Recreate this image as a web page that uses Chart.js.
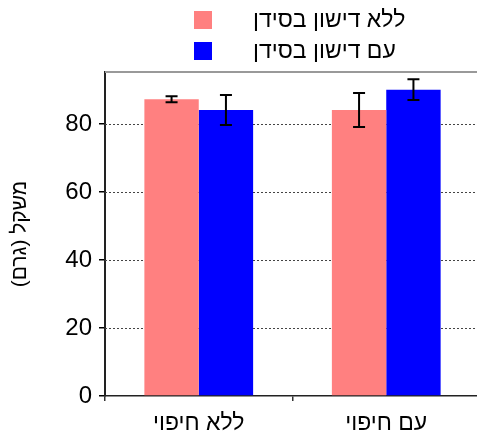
<!DOCTYPE html>
<html>
<head>
<meta charset="utf-8">
<script src="https://cdn.jsdelivr.net/npm/chart.js@4"></script>
<style>
html,body{margin:0;padding:0;overflow:hidden;background:#fff;}
#wrap{width:481px;height:432px;position:relative;}
</style>
</head>
<body>
<div id="wrap"><canvas id="c"></canvas></div>
<script>
const categories = ['ללא חיפוי', 'עם חיפוי'];
const seriesLabels = ['ללא דישון בסידן', 'עם דישון בסידן'];
const noCalcium = [87.3, 84.1];
const noCalciumErr = [0.9, 5.0];
const withCalcium = [84.1, 90.1];
const withCalciumErr = [4.4, 3.05];
const yTitle = 'משקל (גרם)\u200F';

const FONT = "'Liberation Sans', Arial, sans-serif";

const errorBars = {
  id: 'errorBars',
  afterDatasetsDraw(chart) {
    const ctx = chart.ctx, ys = chart.scales.y;
    ctx.save();
    ctx.strokeStyle = '#000';
    ctx.lineWidth = 2;
    chart.data.datasets.forEach((ds, di) => {
      const meta = chart.getDatasetMeta(di);
      meta.data.forEach((bar, i) => {
        const v = ds.data[i], e = ds.errors[i];
        const yt = ys.getPixelForValue(v + e), yb = ys.getPixelForValue(v - e);
        const x = bar.x, w = 6;
        ctx.beginPath();
        ctx.moveTo(x, yt); ctx.lineTo(x, yb);
        ctx.moveTo(x - w, yt); ctx.lineTo(x + w, yt);
        ctx.moveTo(x - w, yb); ctx.lineTo(x + w, yb);
        ctx.stroke();
      });
    });
    ctx.restore();
  }
};

const gridAndFrame = {
  id: 'gridAndFrame',
  beforeDatasetsDraw(chart) {
    const ctx = chart.ctx, ys = chart.scales.y, a = chart.chartArea;
    ctx.save();
    ctx.strokeStyle = '#444';
    ctx.lineWidth = 1;
    ctx.setLineDash([2, 2]);
    ys.ticks.forEach(t => {
      if (t.value === 0) return;
      const y = Math.round(ys.getPixelForValue(t.value)) + 0.5;
      ctx.beginPath(); ctx.moveTo(a.left, y); ctx.lineTo(a.right, y); ctx.stroke();
    });
    ctx.setLineDash([]);
    ctx.strokeStyle = '#999';
    ctx.lineWidth = 2;
    ctx.beginPath(); ctx.moveTo(a.left, a.top); ctx.lineTo(a.right, a.top); ctx.stroke();
    ctx.restore();
  }
};

const customLegend = {
  id: 'customLegend',
  afterDraw(chart) {
    const ctx = chart.ctx;
    ctx.save();
    ctx.font = '23px ' + FONT;
    ctx.textBaseline = 'middle';
    ctx.textAlign = 'left';
    chart.data.datasets.forEach((ds, i) => {
      const y = 20 + i * 31;
      ctx.fillStyle = ds.backgroundColor;
      ctx.fillRect(194, y - 9, 18, 18);
      ctx.fillStyle = '#000';
      ctx.fillText(ds.label, 253, y + 1);
    });
    ctx.restore();
  }
};

new Chart(document.getElementById('c'), {
  type: 'bar',
  data: {
    labels: categories,
    datasets: [
      { label: seriesLabels[0], data: noCalcium, errors: noCalciumErr, backgroundColor: '#FF8080', borderWidth: 0 },
      { label: seriesLabels[1], data: withCalcium, errors: withCalciumErr, backgroundColor: '#0000FF', borderWidth: 0 }
    ]
  },
  options: {
    responsive: true,
    maintainAspectRatio: false,
    animation: false,
    layout: { padding: { top: 72, left: 8, right: 1, bottom: 0 } },
    plugins: { legend: { display: false }, tooltip: { enabled: false } },
    datasets: { bar: { categoryPercentage: 0.58, barPercentage: 1 } },
    scales: {
      x: {
        grid: { offset: true, drawOnChartArea: false, tickLength: 5, tickColor: '#333', lineWidth: 1.5 },
        border: { color: '#222', width: 1.5 },
        ticks: { font: { family: FONT, size: 23 }, color: '#000', padding: 9 },
        afterFit(s) { s.height = 36; }
      },
      y: {
        min: 0, max: 95.3,
        grid: { drawOnChartArea: false, tickLength: 6, tickColor: '#000', lineWidth: 1.5 },
        border: { color: '#222', width: 2 },
        ticks: { stepSize: 20, includeBounds: false, font: { family: FONT, size: 24 }, color: '#000', padding: 7 },
        title: { display: true, text: yTitle, font: { family: FONT, size: 21 }, color: '#000', padding: { top: 0, bottom: 4 } },
        afterFit(s) { s.width = 97; }
      }
    }
  },
  plugins: [gridAndFrame, errorBars, customLegend]
});
</script>
</body>
</html>
